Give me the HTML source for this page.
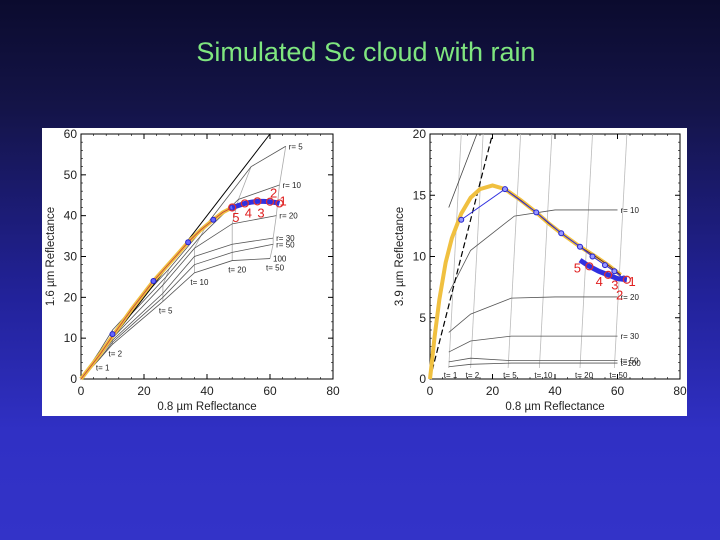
<!DOCTYPE html>
<html><head><meta charset="utf-8"><style>
html,body{margin:0;padding:0}
body{width:720px;height:540px;overflow:hidden;background:linear-gradient(180deg,#0b0b2e 0%,#141448 20%,#22229a 55%,#3030c4 80%,#3333c8 100%);font-family:"Liberation Sans",sans-serif;position:relative}
#title{position:absolute;left:0;width:732px;top:37px;text-align:center;font-size:27px;color:#7fe67f}
svg{position:absolute;left:0;top:0}
</style></head><body>
<div id="title">Simulated Sc cloud with rain</div>
<svg id="s" width="720" height="540"></svg>
<script>
// ---- Left chart data (0.8 vs 1.6 um) ----
const tauLabels=["t= 1","t= 2","t= 5","t= 10","t= 20","t= 50"];
const reLabels=["r= 5","r= 10","r= 20","r= 30","r= 50","100"];
const L_rX=[[6,10,28,40,54,65],[6,10,27,38,50,63],[6,10,26,36,48,62],[6,10,26,36,48,61],[6,10,26,36,48,61],[6,10,26,36,48,60]];
const L_rY=[[7,12,27,38,52,57],[6.5,11,25,35,44,47.5],[6,10,23,32,38,40],[5.5,9.5,21,30,33,34.5],[5,9,20,28,31,33],[5,8.5,19,26,29,29.5]];
const L_curveX=[0,3,6,10,16,23,30,34,38,42,45,48];
const L_curveY=[0,3,6,10.5,17,24,30,33.5,36.5,39,40.8,42];
const L_ptX=[10,23,34,42,48];
const L_ptY=[11,24,33.5,39,42];
const L_clX=[48,50,52,54,56,58,60,62,63];
const L_clY=[42,42.5,43,43.3,43.5,43.5,43.4,43.2,43];
const L_numX=[63,60,56,52,48];
const L_numY=[42.5,44.5,39.5,39.5,38.5];
// ---- Right chart data (0.8 vs 3.9 um) ----
const R_rX=[[6,13,27,40,60],[6,13,26,40,60],[6,13,26,40,60],[6,13,26,40,60],[6,13,26,40,60]];
const R_rY=[[7,10.5,13.3,13.8,13.8],[3.8,5.3,6.6,6.7,6.7],[2.2,3.1,3.5,3.5,3.5],[1.4,1.7,1.5,1.5,1.5],[1.0,1.2,1.3,1.3,1.3]];
const R_rLab=["r= 10","r= 20","r= 30","t= 50","t=100"];
const R_tX=[6,13,25,35,48,59];
const R_curveX=[0,1.5,3,5,7,10,13,16,20,24,29,34,38,42,48,53,57,61];
const R_curveY=[0,3.5,6.5,9.5,11.5,13.5,14.8,15.5,15.8,15.5,14.6,13.6,12.7,11.9,10.8,10,9.3,8.5];
const R_ptX=[10,24,34,42,48,52,56,59,62];
const R_ptY=[13,15.5,13.6,11.9,10.8,10,9.3,8.8,8.2];
const R_clX=[48,51,54,57,60,63];
const R_clY=[9.7,9.2,8.8,8.5,8.2,8.1];
const R_numX=[63.5,59.5,58,53,46];
const R_numY=[7.6,6.5,7.3,7.6,8.7];
const xTicks=[0,20,40,60,80];
const L_yTicks=[0,10,20,30,40,50,60];
const R_yTicks=[0,5,10,15,20];

const NS="http://www.w3.org/2000/svg";
const svg=document.getElementById('s');
function el(t,a,p){const e=document.createElementNS(NS,t);for(const k in a)e.setAttribute(k,a[k]);(p||svg).appendChild(e);return e;}
const bg=el('rect',{x:42,y:128,width:645,height:288,fill:'#fff'});

function panel(name,x0,x1,y0,y1,ymax,yTicks,ylab){
  const g=el('g',{});
  
  
  const sx=v=>x0+(x1-x0)*v/80, sy=v=>y0-(y0-y1)*v/ymax;
  const frame=el('rect',{x:x0,y:y1,width:x1-x0,height:y0-y1,fill:'none',stroke:'#000','stroke-width':1},g);
  
  for(let v=0;v<=80;v+=4){el('line',{x1:sx(v),x2:sx(v),y1:y0,y2:y0-2,stroke:'#000','stroke-width':0.6},g);el('line',{x1:sx(v),x2:sx(v),y1:y1,y2:y1+2,stroke:'#000','stroke-width':0.6},g);}
  const ms=ymax/30;
  for(let v=0;v<=ymax+1e-9;v+=ms){el('line',{x1:x0,x2:x0+2,y1:sy(v),y2:sy(v),stroke:'#000','stroke-width':0.6},g);el('line',{x1:x1,x2:x1-2,y1:sy(v),y2:sy(v),stroke:'#000','stroke-width':0.6},g);}
  xTicks.forEach(t=>{el('line',{x1:sx(t),x2:sx(t),y1:y0,y2:y0-5,stroke:'#000'},g);el('line',{x1:sx(t),x2:sx(t),y1:y1,y2:y1+5,stroke:'#000'},g);
    const tx=el('text',{x:sx(t),y:y0+16,'font-size':12,'text-anchor':'middle',fill:'#222'},g);tx.textContent=t;
    });
  yTicks.forEach(t=>{el('line',{x1:x0,x2:x0+5,y1:sy(t),y2:sy(t),stroke:'#000'},g);el('line',{x1:x1,x2:x1-5,y1:sy(t),y2:sy(t),stroke:'#000'},g);
    const tx=el('text',{x:x0-4,y:sy(t)+4,'font-size':12,'text-anchor':'end',fill:'#222'},g);tx.textContent=t;
    });
  const xl=el('text',{x:(x0+x1)/2,y:y0+31,'font-size':11.5,'text-anchor':'middle',fill:'#222'},g);xl.textContent='0.8 µm Reflectance';
  
  const yl=el('text',{x:0,y:0,'font-size':11.5,'text-anchor':'middle',fill:'#222',transform:`translate(${x0-27},${(y0+y1)/2}) rotate(-90)`},g);yl.textContent=ylab;
  
  return {g,sx,sy};
}
function poly(g,xs,ys,P,attrs){const pts=xs.map((x,i)=>P.sx(x)+','+P.sy(ys[i])).join(' ');return el('polyline',Object.assign({points:pts,fill:'none'},attrs),g);}
function txt(g,x,y,s,attrs){const t=el('text',Object.assign({x:x,y:y},attrs),g);t.textContent=s;return t;}

// LEFT
const A=panel('left-chart',81,333,379,134,60,L_yTicks,'1.6 µm Reflectance');
for(let j=0;j<6;j++){const xs=L_rX.map(r=>r[j]),ys=L_rY.map(r=>r[j]);poly(A.g,xs,ys,A,{stroke:'#aaa','stroke-width':0.8});}
L_rX.forEach((xs,i)=>{const l=poly(A.g,[0].concat(xs),[0].concat(L_rY[i]),A,{stroke:'#555','stroke-width':0.8});
  
  txt(A.g,A.sx(xs[5])+3,A.sy(L_rY[i][5])+3,reLabels[i],{'font-size':8,fill:'#222'});});
L_rX[2].forEach((x,j)=>{txt(A.g,A.sx(L_rX[5][j])-4,A.sy(L_rY[5][j])+12,tauLabels[j],{'font-size':8,fill:'#222'});});
const ol=el('line',{x1:A.sx(0),y1:A.sy(0),x2:A.sx(60),y2:A.sy(60),stroke:'#000','stroke-width':1},A.g);

const yc=poly(A.g,L_curveX,L_curveY,A,{stroke:'#f0c040','stroke-width':4});

poly(A.g,L_curveX,L_curveY,A,{stroke:'#c04040','stroke-width':0.8});
L_ptX.forEach((x,i)=>{const c=el('circle',{cx:A.sx(x),cy:A.sy(L_ptY[i]),r:2.5,fill:'#66f',stroke:'#22c'},A.g);});
poly(A.g,L_clX,L_clY,A,{stroke:'#3030e0','stroke-width':5});
L_clX.forEach((x,i)=>{if(i%2==0)el('circle',{cx:A.sx(x),cy:A.sy(L_clY[i]),r:3.5,fill:'none',stroke:'#e03030','stroke-width':1.2},A.g);});
L_numX.forEach((x,i)=>{const t=txt(A.g,A.sx(x),A.sy(L_numY[i]),String(i+1),{'font-size':13,fill:'#e02020'});});

// RIGHT
const B=panel('right-chart',430,680,379,134,20,R_yTicks,'3.9 µm Reflectance');
R_tX.forEach(x=>{el('line',{x1:B.sx(x),y1:B.sy(0.9),x2:B.sx(x+4),y2:B.sy(20),stroke:'#bbb','stroke-width':0.8},B.g);});
R_rX.forEach((xs,i)=>{const l=poly(B.g,xs,R_rY[i],B,{stroke:'#555','stroke-width':0.8});
  
  txt(B.g,B.sx(xs[4])+3,B.sy(R_rY[i][4])+3,R_rLab[i],{'font-size':8,fill:'#222'});});
tauLabels.forEach((s,j)=>{txt(B.g,B.sx(R_tX[j])-5,B.sy(0.9)+10,s,{'font-size':8,fill:'#222'});});
const dl=el('line',{x1:B.sx(0),y1:B.sy(0),x2:B.sx(20),y2:B.sy(20),stroke:'#000','stroke-width':1.2,'stroke-dasharray':'6,3'},B.g);

el('line',{x1:B.sx(6),y1:B.sy(14),x2:B.sx(15),y2:B.sy(20),stroke:'#444','stroke-width':0.8},B.g);
const yc2=poly(B.g,R_curveX,R_curveY,B,{stroke:'#f0c040','stroke-width':4});

poly(B.g,R_curveX.slice(9),R_curveY.slice(9),B,{stroke:'#602020','stroke-width':0.8});
poly(B.g,R_ptX,R_ptY,B,{stroke:'#3030e0','stroke-width':1});
R_ptX.forEach((x,i)=>{const c=el('circle',{cx:B.sx(x),cy:B.sy(R_ptY[i]),r:2.5,fill:'#99f',stroke:'#22c'},B.g);});
poly(B.g,R_clX,R_clY,B,{stroke:'#3030e0','stroke-width':5});
R_clX.forEach((x,i)=>{if(i%2==1)el('circle',{cx:B.sx(x),cy:B.sy(R_clY[i]),r:3.5,fill:'none',stroke:'#e03030','stroke-width':1.2},B.g);});
R_numX.forEach((x,i)=>{const t=txt(B.g,B.sx(x),B.sy(R_numY[i]),String(i+1),{'font-size':13,fill:'#e02020'});});
</script>
</body></html>
